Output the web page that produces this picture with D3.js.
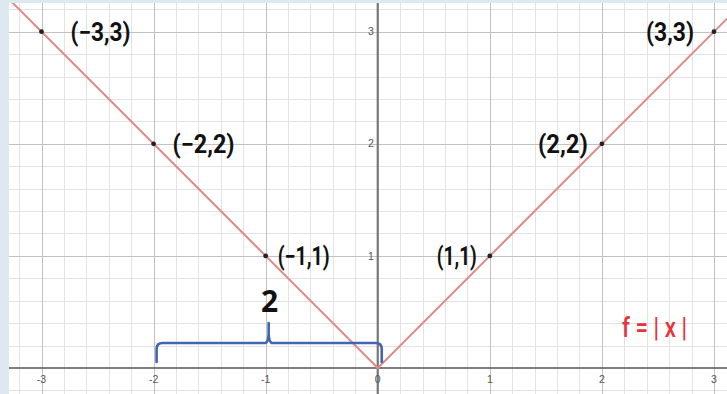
<!DOCTYPE html>
<html>
<head>
<meta charset="utf-8">
<script src="https://cdn.jsdelivr.net/npm/d3@7/dist/d3.min.js"></script>
<style>
  html, body { margin: 0; padding: 0; background: #dce9ef; }
  svg { display: block; }
</style>
</head>
<body>
<svg id="chart" width="727" height="394"></svg>
<script>
// Labelled points on f(x) = |x|
const pointX = [-3, -2, -1, 1, 2, 3];
const pointY = [3, 2, 1, 1, 2, 3];
const pointLabels = ["(−3,3)", "(−2,2)", "(−1,1)", "(1,1)", "(2,2)", "(3,3)"];
// Axis tick labels
const xTicks = [-3, -2, -1, 0, 1, 2, 3];
const yTicks = [1, 2, 3];
// Brace spanning x = -2 .. 0, with its length label
const braceFrom = -2, braceTo = 0, braceLabel = "2";
const fnLabel = "f = | x |";

const plot = { left: 9, top: 3, right: 727, bottom: 394 };

const x = d3.scaleLinear().domain([-3, 3]).range([41.5, 714]);
const y = d3.scaleLinear().domain([0, 3]).range([368, 31.7]);

const svg = d3.select("#chart");

svg.append("defs").append("clipPath").attr("id", "plotClip")
  .append("rect")
  .attr("x", plot.left).attr("y", plot.top)
  .attr("width", plot.right - plot.left).attr("height", plot.bottom - plot.top);

const g = svg.append("g").attr("clip-path", "url(#plotClip)");
g.append("rect")
  .attr("x", plot.left).attr("y", plot.top)
  .attr("width", plot.right - plot.left).attr("height", plot.bottom - plot.top)
  .attr("fill", "#ffffff");

// Grid: minor every 0.2, major every 1
const xMin = x.invert(plot.left), xMax = x.invert(plot.right);
const yMax = y.invert(plot.top), yMin = y.invert(plot.bottom);
const minorStep = 0.2;
const xsGrid = d3.range(Math.ceil(xMin / minorStep), Math.floor(xMax / minorStep) + 1).map(i => i * minorStep);
const ysGrid = d3.range(Math.ceil(yMin / minorStep), Math.floor(yMax / minorStep) + 1).map(i => i * minorStep);
const isMajor = v => Math.abs(v - Math.round(v)) < 1e-6;
const notZero = v => Math.abs(v) > 1e-6;

function vLines(data, color) {
  g.append("g").selectAll("line").data(data).join("line")
    .attr("x1", d => Math.round(x(d)) + 0.5).attr("x2", d => Math.round(x(d)) + 0.5)
    .attr("y1", plot.top).attr("y2", plot.bottom)
    .attr("stroke", color).attr("stroke-width", 1);
}
function hLines(data, color) {
  g.append("g").selectAll("line").data(data).join("line")
    .attr("y1", d => Math.round(y(d)) + 0.5).attr("y2", d => Math.round(y(d)) + 0.5)
    .attr("x1", plot.left).attr("x2", plot.right)
    .attr("stroke", color).attr("stroke-width", 1);
}
vLines(xsGrid.filter(v => !isMajor(v)), "#e3e3e3");
hLines(ysGrid.filter(v => !isMajor(v)), "#e3e3e3");
vLines(xsGrid.filter(v => isMajor(v) && notZero(v)), "#c2c2c2");
hLines(ysGrid.filter(v => isMajor(v) && notZero(v)), "#c2c2c2");

// Axes
g.append("line")
  .attr("x1", plot.left).attr("x2", plot.right)
  .attr("y1", y(0)).attr("y2", y(0))
  .attr("stroke", "#555").attr("stroke-width", 1.6);
g.append("line")
  .attr("x1", x(0)).attr("x2", x(0))
  .attr("y1", plot.top).attr("y2", plot.bottom)
  .attr("stroke", "#777").attr("stroke-width", 2.2);

// Tick labels
g.append("g").selectAll("text").data(xTicks).join("text")
  .attr("x", d => x(d)).attr("y", y(0) + 15)
  .attr("text-anchor", "middle")
  .attr("font-family", "Liberation Sans, Arial, sans-serif")
  .attr("font-size", 10.5).attr("fill", "#555")
  .text(d => d);
g.append("g").selectAll("text").data(yTicks).join("text")
  .attr("x", x(0) - 4).attr("y", d => y(d)).attr("dy", "0.35em")
  .attr("text-anchor", "end")
  .attr("font-family", "Liberation Sans, Arial, sans-serif")
  .attr("font-size", 10.5).attr("fill", "#555")
  .text(d => d);

// f(x) = |x| across the visible domain
const fnXs = [xMin, 0, xMax];
const line = d3.line().x(d => x(d)).y(d => y(Math.abs(d)));
g.append("path").datum(fnXs)
  .attr("d", line)
  .attr("fill", "none")
  .attr("stroke", "#df8b8b").attr("stroke-width", 2);

// Brace under the segment from x = -2 to 0
const bx1 = x(braceFrom) + 3, bx2 = x(braceTo) + 4, bxm = x((braceFrom + braceTo) / 2) + 3;
const by0 = y(0);
const yEnd = by0 - 6, yBar = by0 - 25, yPeak = by0 - 45;
const bracePath = d3.path();
bracePath.moveTo(bx1, yEnd);
bracePath.lineTo(bx1, yBar + 6);
bracePath.quadraticCurveTo(bx1, yBar, bx1 + 6, yBar);
bracePath.lineTo(bxm - 3, yBar);
bracePath.quadraticCurveTo(bxm - 0.5, yBar - 1, bxm, yBar - 9);
bracePath.lineTo(bxm, yPeak);
bracePath.lineTo(bxm, yBar - 9);
bracePath.quadraticCurveTo(bxm + 0.5, yBar - 1, bxm + 3, yBar);
bracePath.lineTo(bx2 - 6, yBar);
bracePath.quadraticCurveTo(bx2, yBar, bx2, yBar + 6);
bracePath.lineTo(bx2, yEnd);
g.append("path")
  .attr("d", bracePath.toString())
  .attr("fill", "none")
  .attr("stroke", "#4164b4").attr("stroke-width", 2.6)
  .attr("stroke-linejoin", "round").attr("stroke-linecap", "round");

g.append("text")
  .attr("x", bxm + 1).attr("y", yBar - 31)
  .attr("text-anchor", "middle")
  .attr("font-family", "Open Sans, sans-serif")
  .attr("font-weight", 700).attr("font-size", 30)
  .attr("fill", "#111")
  .text(braceLabel);

// Points and their coordinate labels
const points = pointX.map((d, i) => ({ x: pointX[i], y: pointY[i], label: pointLabels[i] }));
const labelShift = [29, 19, 12, -13, -14, -20];
const labelWidth = [60, 62, 52, 40, 50, 48];

g.append("g").selectAll("circle").data(points).join("circle")
  .attr("cx", d => x(d.x)).attr("cy", d => y(d.y))
  .attr("r", 2.4).attr("fill", "#222");

g.append("g").selectAll("text").data(points).join("text")
  .attr("x", (d, i) => x(d.x) + labelShift[i])
  .attr("y", d => y(d.y)).attr("dy", "0.36em")
  .attr("text-anchor", d => d.x < 0 ? "start" : "end")
  .attr("font-family", "Roboto, sans-serif")
  .attr("font-weight", 700).attr("font-size", 25)
  .attr("fill", "#111")
  .attr("textLength", (d, i) => labelWidth[i])
  .attr("lengthAdjust", "spacingAndGlyphs")
  .text(d => d.label);

// Function name
g.append("text")
  .attr("x", 622).attr("y", 327).attr("dy", "0.36em")
  .attr("font-family", "Roboto, sans-serif")
  .attr("font-weight", 500).attr("font-size", 27)
  .attr("fill", "#e8323c")
  .attr("textLength", 65)
  .attr("lengthAdjust", "spacingAndGlyphs")
  .text(fnLabel);
</script>
</body>
</html>
